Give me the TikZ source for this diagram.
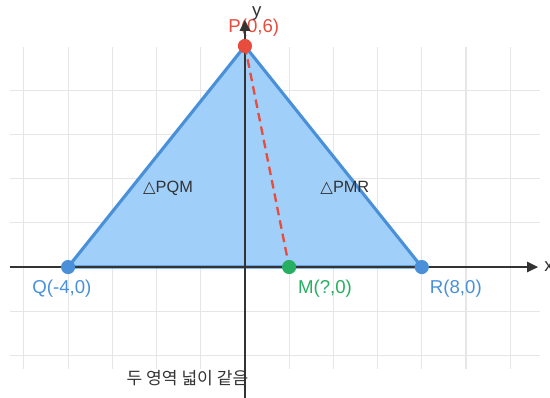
\documentclass[tikz,border=0pt]{standalone}
\usepackage{fontspec}
\setmainfont{Liberation Sans}
\newfontfamily\kofont{Noto Sans CJK KR}
\newfontfamily\symfont{DejaVu Sans}
\usetikzlibrary{arrows.meta}
\definecolor{gridgray}{HTML}{E6E6E6}
\definecolor{axisgray}{HTML}{333333}
\definecolor{ptblue}{HTML}{4A90D9}
\definecolor{ptred}{HTML}{E74C3C}
\definecolor{ptgreen}{HTML}{27AE60}
\definecolor{fillblue}{HTML}{A0CFFA}
\begin{document}
\begin{tikzpicture}[scale=1.0,
  gridline/.style={gridgray,line width=0.7pt},
  axisline/.style={axisgray,line width=1.3pt,-{Triangle[length=7pt,width=6.5pt]}},
  ptdot/.style={circle,fill=#1,inner sep=0pt,minimum size=0.32cm},
  ptlabel/.style={font=\fontsize{12}{14}\selectfont,text=#1},
  trilabel/.style={font=\fontsize{10.5}{12}\selectfont,text=axisgray},
  notelabel/.style={font=\kofont\fontsize{11}{13}\selectfont,text=axisgray}]
\useasboundingbox (-5.54,-2.96) rectangle (6.90,6.04);
\foreach \x in {-5,...,6} \draw[gridline] (\x,-2.31) -- (\x,4.98);
\foreach \y in {-2,-1,1,2,3,4} \draw[gridline] (-5.32,\y) -- (6.67,\y);

\coordinate (P) at (0,5);
\coordinate (Q) at (-4,0);
\coordinate (R) at (4,0);
\coordinate (M) at (1,0);
\coordinate (xstart) at (-5.32,0);
\coordinate (xend) at (6.63,0);
\coordinate (ystart) at (0,-2.96);
\coordinate (yend) at (0,5.59);

\fill[fillblue] (Q) -- (P) -- (R) -- cycle;
\draw[ptblue,line width=2pt,line join=round] (Q) -- (P) -- (R) -- cycle;

\node[ptlabel=ptred] (Plabel) at (0.2,5.41) {P(0,6)};
\node[ptlabel=ptblue] (Qlabel) at (-4.14,-0.48) {Q(-4,0)};
\node[ptlabel=ptgreen] (Mlabel) at (1.81,-0.48) {M(?,0)};
\node[ptlabel=ptblue] (Rlabel) at (4.77,-0.48) {R(8,0)};
\node[trilabel] (PQMlabel) at (-1.74,1.79) {{\symfont △}PQM};
\node[trilabel] (PMRlabel) at (2.26,1.79) {{\symfont △}PMR};
\node[notelabel] (note) at (-1.3,-2.51) {두 영역 넓이 같음};

\draw[axisline] (xstart) -- (xend);
\draw[axisline] (ystart) -- (yend);
\node[ptlabel=axisgray] (xlabel) at (6.88,0) {x};
\node[ptlabel=axisgray] (ylabel) at (0.27,5.73) {y};

\draw[ptred,line width=1.5pt,dash pattern=on 5.5pt off 3.3pt] (P) -- (M);

\node[ptdot=ptred] (Pdot) at (P) {};
\node[ptdot=ptblue] (Qdot) at (Q) {};
\node[ptdot=ptblue] (Rdot) at (R) {};
\node[ptdot=ptgreen] (Mdot) at (M) {};
\end{tikzpicture}
\end{document}
